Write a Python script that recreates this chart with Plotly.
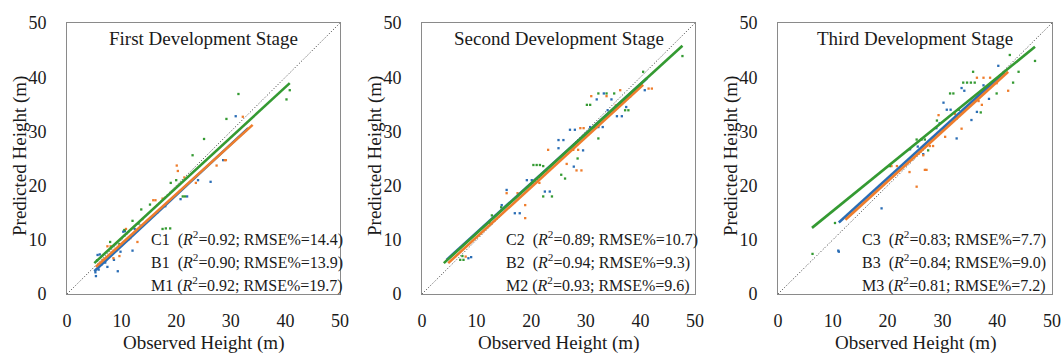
import plotly.graph_objects as go

# ---------------- data ----------------
stage_titles = ["First Development Stage", "Second Development Stage", "Third Development Stage"]
tick_vals = [0, 10, 20, 30, 40, 50]
tick_text = ["0", "10", "20", "30", "40", "50"]
stats_labels = [
    ["C1", "B1", "M1"],
    ["C2", "B2", "M2"],
    ["C3", "B3", "M3"],
]
r2_values = [[0.92, 0.90, 0.92], [0.89, 0.94, 0.93], [0.83, 0.84, 0.81]]
rmse_values = [["14.4", "13.9", "19.7"], ["10.7", "9.3", "9.6"], ["7.7", "9.0", "7.2"]]

# regression lines (observed endpoints, predicted endpoints) per stage: C (blue), B (orange), M (green)
c1_line_x = [5.0, 33.2]; c1_line_y = [4.2, 30.6]
b1_line_x = [5.3, 34.0]; b1_line_y = [5.0, 31.2]
m1_line_x = [5.0, 40.8]; m1_line_y = [5.7, 38.9]

c2_line_x = [4.5, 41.2]; c2_line_y = [6.3, 39.8]
b2_line_x = [4.8, 40.5]; b2_line_y = [5.7, 38.6]
m2_line_x = [4.0, 47.7]; m2_line_y = [5.7, 45.8]

c3_line_x = [11.1, 41.3]; c3_line_y = [13.2, 40.9]
b3_line_x = [12.3, 42.0]; b3_line_y = [13.7, 41.0]
m3_line_x = [6.2, 46.9]; m3_line_y = [12.2, 45.6]

# scattered observations (observed, predicted)
c1_x = [5.2, 5.6, 6.0, 6.4, 5.3, 5.8, 7.4, 8.6, 9.3, 9.8, 10.3, 10.6, 11.2, 12.0, 12.4, 24.0, 26.3, 28.6, 30.9, 16.5, 20.8, 22.0, 18.0, 13.5, 7.0]
c1_y = [4.0, 7.2, 7.3, 5.5, 3.3, 4.5, 5.0, 6.3, 4.2, 7.8, 11.5, 11.6, 10.0, 8.0, 12.0, 21.0, 20.7, 24.7, 32.8, 15.0, 17.5, 18.0, 16.2, 12.6, 5.8]
b1_x = [6.6, 7.4, 8.5, 9.0, 9.6, 10.8, 11.6, 12.9, 15.8, 16.2, 20.1, 20.3, 27.4, 28.9, 29.1, 32.2, 17.5, 21.5, 23.6, 13.8, 8.0]
b1_y = [6.3, 8.8, 6.6, 8.0, 7.0, 12.0, 10.3, 9.6, 17.3, 17.3, 23.7, 22.7, 23.7, 24.7, 24.7, 32.7, 17.6, 21.5, 20.5, 13.8, 8.8]
m1_x = [5.5, 7.9, 9.6, 10.5, 13.1, 13.6, 15.2, 17.5, 18.1, 18.9, 19.0, 21.2, 21.6, 23.0, 25.1, 29.2, 31.4, 40.2, 40.8, 20.0, 12.0]
m1_y = [6.2, 9.6, 9.2, 11.8, 13.0, 15.6, 16.5, 12.0, 12.1, 12.1, 20.5, 18.0, 18.0, 25.6, 28.6, 32.3, 36.9, 35.9, 37.6, 21.0, 13.5]

c2_x = [8.5, 9.0, 14.6, 15.5, 17.0, 17.9, 19.2, 20.1, 22.5, 23.4, 25.0, 25.9, 25.0, 27.1, 28.0, 30.8, 31.5, 32.3, 33.1, 32.0, 34.7, 33.3, 35.7, 36.6, 40.8, 34.0, 35.0, 37.4, 29.5, 27.8]
c2_y = [6.6, 6.8, 16.4, 19.2, 14.9, 14.9, 21.0, 21.0, 18.9, 18.9, 28.4, 28.4, 26.9, 30.3, 30.3, 30.8, 30.8, 30.8, 30.8, 35.9, 35.9, 37.0, 32.8, 32.8, 37.6, 33.9, 33.9, 34.5, 26.5, 23.5]
b2_x = [8.0, 15.5, 18.9, 18.9, 17.5, 22.8, 23.1, 27.7, 28.6, 28.3, 29.2, 29.0, 29.6, 36.3, 38.1, 42.1, 41.5, 31.0, 33.8, 26.5, 21.5, 35.5]
b2_y = [6.9, 18.6, 16.4, 14.0, 18.6, 22.8, 26.6, 26.6, 26.6, 22.8, 22.8, 30.6, 30.6, 37.6, 36.4, 37.9, 37.9, 36.5, 36.5, 24.0, 20.5, 34.8]
m2_x = [7.0, 7.6, 7.4, 12.5, 12.8, 20.4, 21.0, 21.6, 22.2, 22.2, 23.8, 26.2, 30.2, 30.8, 32.3, 32.3, 33.8, 35.2, 37.2, 37.8, 40.5, 47.7, 28.5, 25.5, 14.5]
m2_y = [6.3, 6.3, 7.0, 13.0, 14.5, 23.8, 23.8, 23.8, 18.0, 23.6, 18.0, 21.3, 34.9, 34.9, 28.7, 37.0, 37.0, 37.0, 33.9, 33.9, 41.0, 43.9, 25.0, 22.0, 16.0]

c3_x = [11.0, 11.1, 18.9, 24.1, 25.5, 28.9, 30.2, 30.8, 31.5, 32.6, 32.6, 33.5, 35.3, 36.3, 40.2, 37.5, 38.5, 34.0, 29.5, 26.5]
c3_y = [8.0, 7.8, 15.8, 26.7, 27.2, 30.6, 35.3, 34.0, 34.0, 32.4, 28.7, 38.0, 32.1, 33.6, 42.1, 38.5, 36.0, 37.5, 31.5, 25.8]
b3_x = [20.7, 21.7, 25.3, 26.5, 26.8, 27.1, 27.7, 28.3, 29.3, 32.3, 36.3, 37.5, 38.7, 39.0, 39.9, 36.6, 37.2, 42.0, 33.5, 30.5, 24.0]
b3_y = [23.6, 23.6, 19.8, 25.6, 22.9, 22.9, 27.3, 27.3, 33.0, 33.2, 39.9, 39.9, 39.9, 38.9, 38.9, 35.6, 34.9, 37.5, 30.5, 29.0, 22.5]
m3_x = [6.3, 10.4, 20.4, 25.3, 26.2, 26.8, 27.4, 30.2, 31.4, 32.0, 33.8, 34.5, 35.2, 35.9, 35.6, 39.9, 42.3, 42.9, 43.9, 46.9, 29.0, 37.0, 33.0]
m3_y = [7.4, 13.1, 23.6, 28.5, 28.5, 28.5, 26.5, 30.6, 37.0, 37.0, 39.0, 39.0, 39.0, 39.0, 41.0, 37.0, 44.1, 39.0, 41.0, 43.0, 32.0, 33.5, 34.0]

one_to_one = [0, 50]

# ---------------- styling ----------------
FONT = "Liberation Serif"
TXT = "#1a1a1a"
BLUE = "#2a6db5"
ORANGE = "#ef7d2c"
GREEN = "#349a32"

W, H = 1062, 356
panels_px = [(67, 340), (422, 695), (778, 1052)]
top_px, bot_px = 23, 294

lines = [
    [(c1_line_x, c1_line_y), (b1_line_x, b1_line_y), (m1_line_x, m1_line_y)],
    [(c2_line_x, c2_line_y), (b2_line_x, b2_line_y), (m2_line_x, m2_line_y)],
    [(c3_line_x, c3_line_y), (b3_line_x, b3_line_y), (m3_line_x, m3_line_y)],
]
points = [
    [(c1_x, c1_y), (b1_x, b1_y), (m1_x, m1_y)],
    [(c2_x, c2_y), (b2_x, b2_y), (m2_x, m2_y)],
    [(c3_x, c3_y), (b3_x, b3_y), (m3_x, m3_y)],
]
colors = [BLUE, ORANGE, GREEN]

fig = go.Figure()
annotations = []

for i in range(3):
    sfx = "" if i == 0 else str(i + 1)
    xa, ya = "x" + sfx, "y" + sfx
    # 1:1 line
    fig.add_trace(go.Scatter(x=one_to_one, y=one_to_one, mode="lines",
                             line=dict(color="#333333", width=1, dash="1px,2px"),
                             xaxis=xa, yaxis=ya, showlegend=False, hoverinfo="skip"))
    for k in range(3):
        px_, py_ = points[i][k]
        fig.add_trace(go.Scatter(x=px_, y=py_, mode="markers",
                                 marker=dict(color=colors[k], size=2.3, symbol="square", line=dict(width=0)),
                                 xaxis=xa, yaxis=ya, showlegend=False))
    for k in range(3):
        lx, ly = lines[i][k]
        fig.add_trace(go.Scatter(x=lx, y=ly, mode="lines",
                                 line=dict(color=colors[k], width=2.6),
                                 xaxis=xa, yaxis=ya, showlegend=False))

    x0, x1 = panels_px[i]
    axis_common = dict(range=[0, 50], tickvals=tick_vals, ticktext=tick_text,
                       showgrid=False, zeroline=False, showline=True, mirror=True,
                       linecolor="#8a8a8a", linewidth=1, ticks="", automargin=False,
                       tickfont=dict(family=FONT, size=18, color=TXT))
    fig.layout["xaxis" + sfx] = dict(axis_common, domain=[x0 / W, x1 / W], anchor=ya,
                                     ticklabelstandoff=10)
    fig.layout["yaxis" + sfx] = dict(axis_common, domain=[1 - bot_px / H, 1 - top_px / H], anchor=xa,
                                     ticklabelstandoff=16)

    # panel title
    annotations.append(dict(text=stage_titles[i], xref=xa + " domain", yref=ya + " domain",
                            x=0.5, y=(bot_px - 38) / (bot_px - top_px), xanchor="center", yanchor="middle",
                            showarrow=False, font=dict(family=FONT, size=19, color=TXT)))
    # stats lines
    line_y_px = [238, 261, 284]
    for k in range(3):
        lab = stats_labels[i][k]
        gap = "\u00a0\u00a0" if k < 2 else "\u00a0"
        txt = f"{lab}{gap}(<i>R</i><sup>2</sup>={r2_values[i][k]:.2f}; RMSE%={rmse_values[i][k]})"
        annotations.append(dict(text=txt, xref=xa + " domain", yref=ya + " domain",
                                x=0.30, y=(bot_px - line_y_px[k]) / (bot_px - top_px),
                                xanchor="left", yanchor="middle", showarrow=False,
                                font=dict(family=FONT, size=16, color=TXT)))
    # axis titles
    annotations.append(dict(text="Observed Height (m)", xref="paper", yref="paper",
                            x=(x0 + x1) / 2 / W, y=1 - 343 / H, xanchor="center", yanchor="middle",
                            showarrow=False, font=dict(family=FONT, size=19, color=TXT)))
    annotations.append(dict(text="Predicted Height (m)", xref="paper", yref="paper",
                            x=(x0 - 47) / W, y=1 - 156 / H, xanchor="center", yanchor="middle",
                            textangle=-90, showarrow=False, font=dict(family=FONT, size=19, color=TXT)))

fig.update_layout(width=W, height=H, margin=dict(l=0, r=0, t=0, b=0, autoexpand=False),
                  paper_bgcolor="white", plot_bgcolor="white",
                  annotations=annotations, showlegend=False)

fig.write_html("out.html", config={"displayModeBar": False},
               post_script="document.body.style.margin='0';document.body.style.overflow='hidden';")
